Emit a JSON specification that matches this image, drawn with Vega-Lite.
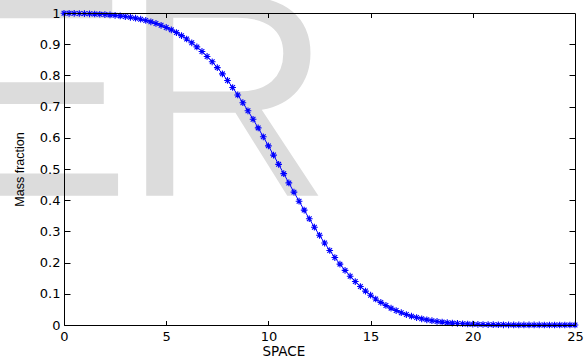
{
  "$schema": "https://vega.github.io/schema/vega-lite/v6.json",
  "width": 511,
  "height": 312,
  "autosize": {"type": "none"},
  "padding": {"left": 64, "top": 13, "right": 9, "bottom": 35},
  "background": "white",
  "config": {"view": {"stroke": null}, "font": "DejaVu Sans"},
  "datasets": {
    "curve": [
      {"x": 0, "y": 0.99925}, {"x": 0.25, "y": 0.99904}, {"x": 0.5, "y": 0.99877}, {"x": 0.75, "y": 0.99842},
      {"x": 1, "y": 0.998}, {"x": 1.25, "y": 0.99747}, {"x": 1.5, "y": 0.99682}, {"x": 1.75, "y": 0.99602},
      {"x": 2, "y": 0.99504}, {"x": 2.25, "y": 0.99386}, {"x": 2.5, "y": 0.99244}, {"x": 2.75, "y": 0.99073},
      {"x": 3, "y": 0.98869}, {"x": 3.25, "y": 0.98627}, {"x": 3.5, "y": 0.98343}, {"x": 3.75, "y": 0.98009},
      {"x": 4, "y": 0.97619}, {"x": 4.25, "y": 0.97168}, {"x": 4.5, "y": 0.96647}, {"x": 4.75, "y": 0.9605},
      {"x": 5, "y": 0.9537}, {"x": 5.25, "y": 0.94598}, {"x": 5.5, "y": 0.93728}, {"x": 5.75, "y": 0.92752},
      {"x": 6, "y": 0.91664}, {"x": 6.25, "y": 0.90457}, {"x": 6.5, "y": 0.89127}, {"x": 6.75, "y": 0.87669},
      {"x": 7, "y": 0.86078}, {"x": 7.25, "y": 0.84353}, {"x": 7.5, "y": 0.82493}, {"x": 7.75, "y": 0.80499},
      {"x": 8, "y": 0.78373}, {"x": 8.25, "y": 0.76118}, {"x": 8.5, "y": 0.7374}, {"x": 8.75, "y": 0.71246},
      {"x": 9, "y": 0.68646}, {"x": 9.25, "y": 0.6595}, {"x": 9.5, "y": 0.6317}, {"x": 9.75, "y": 0.60319},
      {"x": 10, "y": 0.57412}, {"x": 10.25, "y": 0.54463}, {"x": 10.5, "y": 0.5149}, {"x": 10.75, "y": 0.4851},
      {"x": 11, "y": 0.45537}, {"x": 11.25, "y": 0.42588}, {"x": 11.5, "y": 0.39681}, {"x": 11.75, "y": 0.3683},
      {"x": 12, "y": 0.3405}, {"x": 12.25, "y": 0.31354}, {"x": 12.5, "y": 0.28754}, {"x": 12.75, "y": 0.2626},
      {"x": 13, "y": 0.23882}, {"x": 13.25, "y": 0.21627}, {"x": 13.5, "y": 0.19501}, {"x": 13.75, "y": 0.17507},
      {"x": 14, "y": 0.15647}, {"x": 14.25, "y": 0.13922}, {"x": 14.5, "y": 0.12331}, {"x": 14.75, "y": 0.10873},
      {"x": 15, "y": 0.09543}, {"x": 15.25, "y": 0.08336}, {"x": 15.5, "y": 0.07248}, {"x": 15.75, "y": 0.06272},
      {"x": 16, "y": 0.05402}, {"x": 16.25, "y": 0.0463}, {"x": 16.5, "y": 0.0395}, {"x": 16.75, "y": 0.03353},
      {"x": 17, "y": 0.02832}, {"x": 17.25, "y": 0.02381}, {"x": 17.5, "y": 0.01991}, {"x": 17.75, "y": 0.01657},
      {"x": 18, "y": 0.01373}, {"x": 18.25, "y": 0.01131}, {"x": 18.5, "y": 0.00927}, {"x": 18.75, "y": 0.00757},
      {"x": 19, "y": 0.00614}, {"x": 19.25, "y": 0.00496}, {"x": 19.5, "y": 0.00398}, {"x": 19.75, "y": 0.00318},
      {"x": 20, "y": 0.00253}, {"x": 20.25, "y": 0.002}, {"x": 20.5, "y": 0.00158}, {"x": 20.75, "y": 0.00124},
      {"x": 21, "y": 0.00096}, {"x": 21.25, "y": 0.00075}, {"x": 21.5, "y": 0.00057}, {"x": 21.75, "y": 0.00044},
      {"x": 22, "y": 0.00034}, {"x": 22.25, "y": 0.00025}, {"x": 22.5, "y": 0.00019}, {"x": 22.75, "y": 0.00014},
      {"x": 23, "y": 0.00011}, {"x": 23.25, "y": 0.00008}, {"x": 23.5, "y": 0.00006}, {"x": 23.75, "y": 0.00004},
      {"x": 24, "y": 0.00003}, {"x": 24.25, "y": 0.00002}, {"x": 24.5, "y": 0.000015}, {"x": 24.75, "y": 0.00001},
      {"x": 25, "y": 0.000007}
    ],
    "mark": [{"x": -6.209, "y": 0.4144, "t": "E"}, {"x": 2.858, "y": 0.4144, "t": "R"}]
  },
  "resolve": {"axis": {"x": "independent", "y": "independent"}},
  "layer": [
    {
      "data": {"name": "mark"},
      "mark": {"type": "text", "font": "Liberation Sans", "fontSize": 290, "color": "#dcdcdc", "align": "left", "baseline": "alphabetic"},
      "encoding": {
        "x": {"field": "x", "type": "quantitative", "scale": {"domain": [0, 25], "nice": false, "zero": false}, "axis": null},
        "y": {"field": "y", "type": "quantitative", "scale": {"domain": [0, 1], "nice": false, "zero": false}, "axis": null},
        "text": {"field": "t"}
      }
    },
    {
      "data": {"name": "curve"},
      "mark": {"type": "line", "color": "#0000ff", "strokeWidth": 1},
      "encoding": {
        "x": {
          "field": "x", "type": "quantitative",
          "scale": {"domain": [0, 25], "nice": false, "zero": false},
          "axis": {
            "orient": "bottom", "values": [0, 5, 10, 15, 20, 25], "grid": false, "zindex": 1,
            "tickSize": -4.5, "tickWidth": 1, "tickColor": "black",
            "domainColor": "black", "domainWidth": 1,
            "labelPadding": 10, "labelFont": "DejaVu Sans", "labelFontSize": 13, "labelColor": "black",
            "labelFlush": false, "labelOverlap": false,
            "title": "SPACE", "titleFont": "DejaVu Sans", "titleFontSize": 13.5, "titleFontWeight": "normal",
            "titleColor": "black", "titleX": 219.3, "titleY": 26.3, "titleAlign": "center", "titleBaseline": "middle"
          }
        },
        "y": {
          "field": "y", "type": "quantitative",
          "scale": {"domain": [0, 1], "nice": false, "zero": false},
          "axis": {
            "orient": "left", "values": [0, 0.1, 0.2, 0.3, 0.4, 0.5, 0.6, 0.7, 0.8, 0.9, 1], "format": "~g", "grid": false, "zindex": 1,
            "tickSize": -6, "tickWidth": 1, "tickColor": "black",
            "domainColor": "black", "domainWidth": 1,
            "labelPadding": 10, "labelFont": "DejaVu Sans", "labelFontSize": 13, "labelColor": "black",
            "labelFlush": false, "labelOverlap": false,
            "title": "Mass fraction", "titleFont": "Liberation Sans", "titleFontSize": 12.5, "titleFontWeight": "normal",
            "titleColor": "black", "titleAngle": -90, "titleX": -44.5, "titleY": 156, "titleAlign": "center", "titleBaseline": "middle"
          }
        }
      }
    },
    {
      "data": {"name": "curve"},
      "mark": {"type": "point", "shape": "M-1,0L1,0M0,-1L0,1M-0.7,-0.7L0.7,0.7M-0.7,0.7L0.7,-0.7", "filled": false, "stroke": "#0000ff", "strokeWidth": 1.1, "opacity": 1, "size": 45},
      "encoding": {
        "x": {
          "field": "x", "type": "quantitative",
          "scale": {"domain": [0, 25], "nice": false, "zero": false},
          "axis": {
            "orient": "top", "values": [5, 10, 15, 20], "grid": false, "labels": false, "title": null, "zindex": 1,
            "tickSize": -4.5, "tickWidth": 1, "tickColor": "black", "domainColor": "black", "domainWidth": 1
          }
        },
        "y": {
          "field": "y", "type": "quantitative",
          "scale": {"domain": [0, 1], "nice": false, "zero": false},
          "axis": {
            "orient": "right", "values": [0.1, 0.2, 0.3, 0.4, 0.5, 0.6, 0.7, 0.8, 0.9], "grid": false, "labels": false, "title": null, "zindex": 1,
            "tickSize": -6, "tickWidth": 1, "tickColor": "black", "domainColor": "black", "domainWidth": 1
          }
        }
      }
    }
  ]
}
